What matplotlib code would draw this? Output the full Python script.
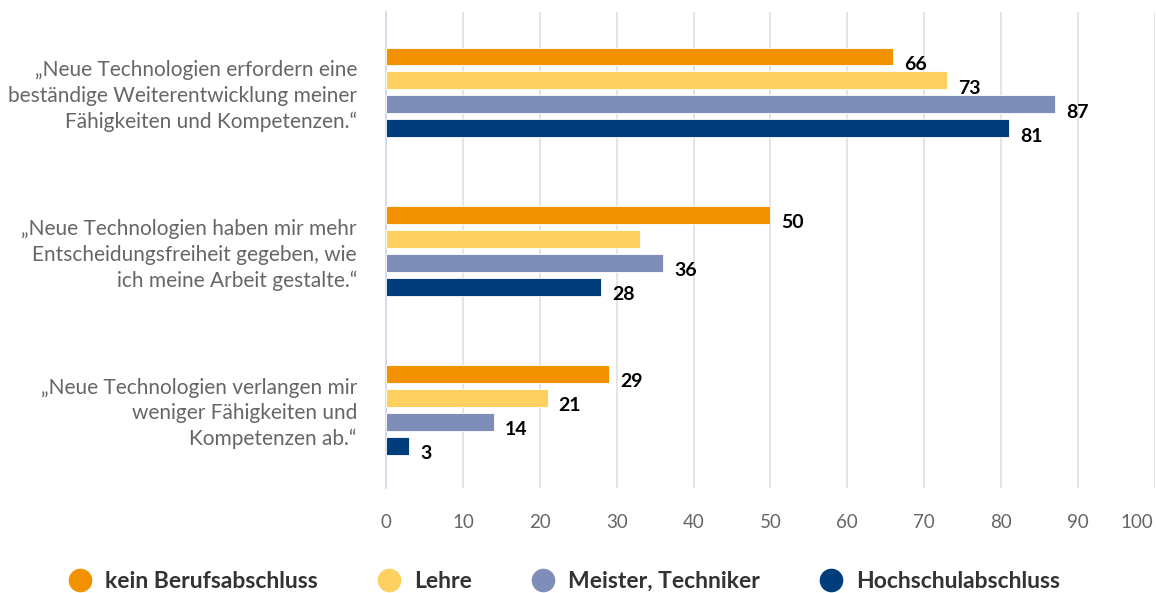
import numpy as np
from matplotlib import pyplot as plt
from matplotlib.lines import Line2D
import matplotlib.transforms as mtransforms

plt.rcParams['font.family'] = ['Lato', 'DejaVu Sans']

categories = [
    "„Neue Technologien erfordern eine\nbeständige Weiterentwicklung meiner\nFähigkeiten und Kompetenzen.“",
    "„Neue Technologien haben mir mehr\nEntscheidungsfreiheit gegeben, wie\nich meine Arbeit gestalte.“",
    "„Neue Technologien verlangen mir\nweniger Fähigkeiten und\nKompetenzen ab.“",
]
series = ["kein Berufsabschluss", "Lehre", "Meister, Techniker", "Hochschulabschluss"]
colors = ["#F39200", "#FDD060", "#7F8DB9", "#003D7C"]
values = [
    [66, 50, 29],   # kein Berufsabschluss
    [73, 33, 21],   # Lehre
    [87, 36, 14],   # Meister, Techniker
    [81, 28, 3],    # Hochschulabschluss
]
# which values carry a label in the original (Lehre / second statement has none)
show_label = [
    [True, True, True],
    [True, False, True],
    [True, True, True],
    [True, True, True],
]
xticks = list(range(0, 101, 10))

fig = plt.figure(figsize=(11.56, 5.93), dpi=100)
ax = fig.add_axes([0.334, 0.177, 0.665, 0.803])

y = np.arange(len(categories))
step = 0.151
height = 0.113
offsets = (np.arange(len(series)) - 1.45) * step

for i, name in enumerate(series):
    ypos = y + offsets[i]
    ax.barh(ypos, values[i], height=height, color=colors[i], label=name, zorder=3,
            edgecolor='white', linewidth=0.6)
    for j, v in enumerate(values[i]):
        if show_label[i][j]:
            ax.annotate(str(v), (v, ypos[j]), xytext=(8, -5.5), textcoords='offset points',
                        va='center', ha='left', fontsize=14, fontweight='bold', color='black')

ax.set_xlim(0, 100)
ax.set_ylim(len(categories) - 0.5, -0.5)
ax.set_xticks(xticks)
ax.set_yticks(y)
ax.set_yticklabels(categories, fontsize=15, color='#666666', linespacing=1.35)
ax.tick_params(axis='both', which='both', length=0)
ax.tick_params(axis='x', pad=19, labelsize=13.5, labelcolor='#666666')
ax.tick_params(axis='y', pad=21)
ax.grid(axis='x', color='#e0e0e0', linewidth=1.2, zorder=0)
for s in ['top', 'right', 'bottom']:
    ax.spines[s].set_visible(False)
ax.spines['left'].set_color('#ccd6eb')
ax.spines['left'].set_linewidth(1.2)

#last tick label is pushed inside the figure edge
last = ax.get_xticklabels()[-1]
last.set_transform(last.get_transform() + mtransforms.ScaledTranslation(-18/100, 0, fig.dpi_scale_trans))

handles = [Line2D([0], [0], marker='o', linestyle='', markersize=16, color=c) for c in colors]
leg = fig.legend(handles, series, loc='center', bbox_to_anchor=(0.488, 0.02), ncol=4,
                 frameon=False, columnspacing=2.6, handletextpad=0.6, handlelength=1.0,
                 borderpad=0, prop={'size': 16.5, 'weight': 'bold'})
for t in leg.get_texts():
    t.set_color('#333333')

fig.savefig("out.png", dpi=100)
